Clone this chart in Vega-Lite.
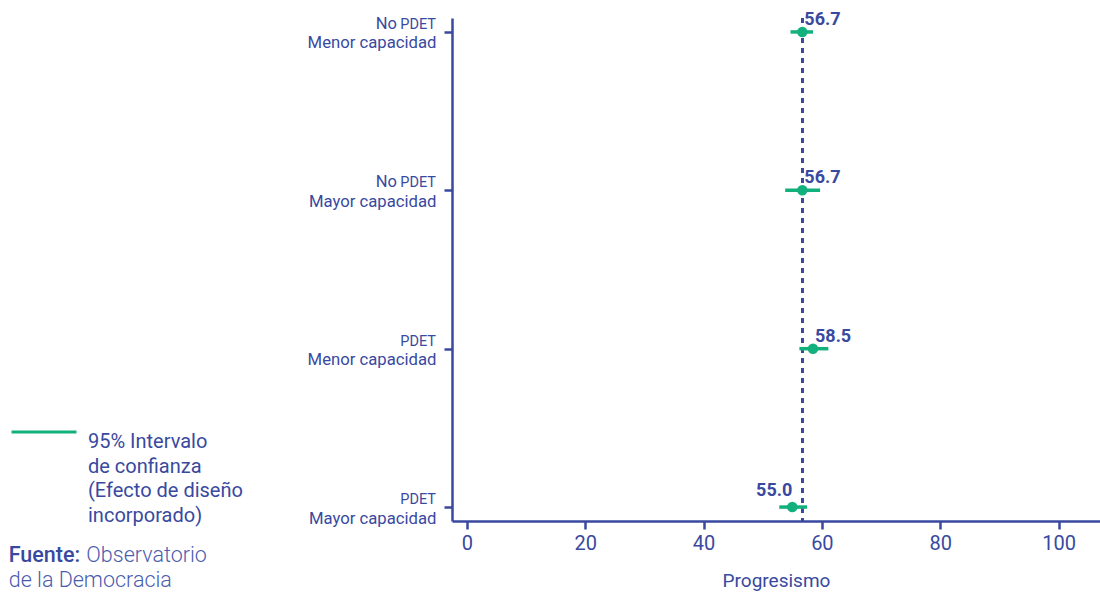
{
  "$schema": "https://vega.github.io/schema/vega-lite/v6.json",
  "width": 648,
  "height": 503,
  "autosize": {"type": "none"},
  "padding": {"left": 452, "top": 18, "right": 0, "bottom": 71},
  "background": "white",
  "config": {
    "font": "Roboto",
    "view": {"stroke": null},
    "style": {"guide-label": {"lineHeight": 24.5}},
    "axisX": {
      "grid": false,
      "domainColor": "#3949a0", "domainWidth": 2.5,
      "tickColor": "#3949a0", "tickWidth": 2.5, "tickSize": 8,
      "labelColor": "#3949a0", "labelFontSize": 20, "labelPadding": 4, "labelFont": "Roboto",
      "titleColor": "#3949a0", "titleFontSize": 19, "titleFontWeight": "normal", "titlePadding": 18, "titleFont": "Roboto"
    },
    "axisY": {
      "grid": false,
      "domainColor": "#3949a0", "domainWidth": 2.5,
      "tickColor": "#3949a0", "tickWidth": 2.5, "tickSize": 8,
      "labelColor": "#3949a0", "labelFontSize": 16.7, "labelPadding": 8, "labelFont": "Roboto",
      "labelBaseline": "alphabetic", "labelOffset": 16, "labelLimit": 300,
      "labelExpr": "split(datum.label, '|')[1]"
    }
  },
  "datasets": {
    "d": [
      {"grupo": "No PDET|Menor capacidad", "prefijo": "No", "valor": 56.7, "li": 54.7, "ls": 58.5},
      {"grupo": "No PDET|Mayor capacidad", "prefijo": "No", "valor": 56.7, "li": 53.8, "ls": 59.7},
      {"grupo": "PDET|Menor capacidad", "prefijo": "", "valor": 58.5, "li": 56.2, "ls": 61.1},
      {"grupo": "PDET|Mayor capacidad", "prefijo": "", "valor": 55.0, "li": 52.8, "ls": 57.5}
    ],
    "fuente": [
      {"t1": "Fuente:", "t2": "Observatorio", "t3": "de la Democracia"}
    ]
  },
  "layer": [
    {
      "data": {"name": "d"},
      "mark": {"type": "rule", "strokeWidth": 2.5, "strokeDash": [5, 5], "color": "#3949a0"},
      "encoding": {
        "x": {"datum": 56.7, "type": "quantitative", "scale": {"domain": [-2.5, 107], "nice": false, "zero": false}, "title": "Progresismo", "axis": {"values": [0, 20, 40, 60, 80, 100]}}
      }
    },
    {
      "data": {"name": "d"},
      "mark": {"type": "rule", "strokeWidth": 3.5},
      "encoding": {
        "y": {"field": "grupo", "type": "nominal", "title": null,
              "scale": {"type": "point", "padding": 0.088, "domain": ["No PDET|Menor capacidad", "No PDET|Mayor capacidad", "PDET|Menor capacidad", "PDET|Mayor capacidad"]}},
        "x": {"field": "li", "type": "quantitative", "scale": {"domain": [-2.5, 107], "nice": false, "zero": false}, "title": "Progresismo", "axis": {"values": [0, 20, 40, 60, 80, 100]}},
        "x2": {"field": "ls"},
        "color": {
          "datum": "95% Intervalo de confianza (Efecto de diseño incorporado)",
          "type": "nominal",
          "scale": {"range": ["#12b07c"]},
          "legend": {
            "orient": "none", "legendX": -442, "legendY": 380, "title": null, "padding": 0,
            "symbolType": "stroke", "symbolSize": 4225, "symbolStrokeWidth": 3,
            "labelFontSize": 20, "labelColor": "#3949a0", "labelOffset": 10, "labelLimit": 400,
            "labelBaseline": "top", "labelFont": "Roboto",
            "labelExpr": "['95% Intervalo', 'de confianza', '(Efecto de diseño', 'incorporado)']"
          }
        }
      }
    },
    {
      "data": {"name": "d"},
      "mark": {"type": "circle", "size": 110, "opacity": 1, "color": "#12b07c"},
      "encoding": {
        "y": {"field": "grupo", "type": "nominal", "title": null,
              "scale": {"type": "point", "padding": 0.088, "domain": ["No PDET|Menor capacidad", "No PDET|Mayor capacidad", "PDET|Menor capacidad", "PDET|Mayor capacidad"]}},
        "x": {"field": "valor", "type": "quantitative", "scale": {"domain": [-2.5, 107], "nice": false, "zero": false}, "title": "Progresismo"}
      }
    },
    {
      "data": {"name": "d"},
      "transform": [{"filter": "datum.valor >= 56"}],
      "mark": {"type": "text", "align": "left", "baseline": "alphabetic", "dx": 2, "dy": -7, "fontSize": 18, "fontWeight": "bold", "color": "#3949a0", "font": "Roboto"},
      "encoding": {
        "y": {"field": "grupo", "type": "nominal", "title": null,
              "scale": {"type": "point", "padding": 0.088, "domain": ["No PDET|Menor capacidad", "No PDET|Mayor capacidad", "PDET|Menor capacidad", "PDET|Mayor capacidad"]}},
        "x": {"field": "valor", "type": "quantitative", "scale": {"domain": [-2.5, 107], "nice": false, "zero": false}, "title": "Progresismo"},
        "text": {"field": "valor", "type": "quantitative", "format": ".1f"}
      }
    },
    {
      "data": {"name": "d"},
      "transform": [{"filter": "datum.valor < 56"}],
      "mark": {"type": "text", "align": "right", "baseline": "alphabetic", "dx": 0, "dy": -11, "fontSize": 18, "fontWeight": "bold", "color": "#3949a0", "font": "Roboto"},
      "encoding": {
        "y": {"field": "grupo", "type": "nominal", "title": null,
              "scale": {"type": "point", "padding": 0.088, "domain": ["No PDET|Menor capacidad", "No PDET|Mayor capacidad", "PDET|Menor capacidad", "PDET|Mayor capacidad"]}},
        "x": {"field": "valor", "type": "quantitative", "scale": {"domain": [-2.5, 107], "nice": false, "zero": false}, "title": "Progresismo"},
        "text": {"field": "valor", "type": "quantitative", "format": ".1f"}
      }
    },
    {
      "data": {"name": "d"},
      "mark": {"type": "text", "align": "right", "baseline": "alphabetic", "dx": -16, "dy": -3, "fontSize": 14.5, "color": "#3949a0", "font": "Roboto"},
      "encoding": {
        "y": {"field": "grupo", "type": "nominal", "title": null,
              "scale": {"type": "point", "padding": 0.088, "domain": ["No PDET|Menor capacidad", "No PDET|Mayor capacidad", "PDET|Menor capacidad", "PDET|Mayor capacidad"]}},
        "x": {"datum": -2.5, "type": "quantitative", "scale": {"domain": [-2.5, 107], "nice": false, "zero": false}, "title": "Progresismo"},
        "text": {"value": "PDET"}
      }
    },
    {
      "data": {"name": "d"},
      "mark": {"type": "text", "align": "right", "baseline": "alphabetic", "dx": -55, "dy": -3, "fontSize": 16.5, "color": "#3949a0", "font": "Roboto"},
      "encoding": {
        "y": {"field": "grupo", "type": "nominal", "title": null,
              "scale": {"type": "point", "padding": 0.088, "domain": ["No PDET|Menor capacidad", "No PDET|Mayor capacidad", "PDET|Menor capacidad", "PDET|Mayor capacidad"]}},
        "x": {"datum": -2.5, "type": "quantitative", "scale": {"domain": [-2.5, 107], "nice": false, "zero": false}, "title": "Progresismo"},
        "text": {"field": "prefijo", "type": "nominal"}
      }
    },
    {
      "data": {"name": "fuente"},
      "mark": {"type": "text", "align": "left", "baseline": "alphabetic", "dy": 55, "fontSize": 21.5, "fontWeight": 500, "color": "#3949a0", "font": "Roboto"},
      "encoding": {
        "y": {"datum": "PDET|Mayor capacidad", "type": "nominal", "title": null,
              "scale": {"type": "point", "padding": 0.088, "domain": ["No PDET|Menor capacidad", "No PDET|Mayor capacidad", "PDET|Menor capacidad", "PDET|Mayor capacidad"]}},
        "x": {"datum": -77.4, "type": "quantitative", "scale": {"domain": [-2.5, 107], "nice": false, "zero": false}, "title": "Progresismo"},
        "text": {"field": "t1", "type": "nominal"}
      }
    },
    {
      "data": {"name": "fuente"},
      "mark": {"type": "text", "align": "left", "baseline": "alphabetic", "dy": 55, "fontSize": 21.5, "fontWeight": 300, "color": "#4a5cae", "font": "Roboto"},
      "encoding": {
        "y": {"datum": "PDET|Mayor capacidad", "type": "nominal", "title": null,
              "scale": {"type": "point", "padding": 0.088, "domain": ["No PDET|Menor capacidad", "No PDET|Mayor capacidad", "PDET|Menor capacidad", "PDET|Mayor capacidad"]}},
        "x": {"datum": -64.3, "type": "quantitative", "scale": {"domain": [-2.5, 107], "nice": false, "zero": false}, "title": "Progresismo"},
        "text": {"field": "t2", "type": "nominal"}
      }
    },
    {
      "data": {"name": "fuente"},
      "mark": {"type": "text", "align": "left", "baseline": "alphabetic", "dy": 80, "fontSize": 21.5, "fontWeight": 300, "color": "#4a5cae", "font": "Roboto"},
      "encoding": {
        "y": {"datum": "PDET|Mayor capacidad", "type": "nominal", "title": null,
              "scale": {"type": "point", "padding": 0.088, "domain": ["No PDET|Menor capacidad", "No PDET|Mayor capacidad", "PDET|Menor capacidad", "PDET|Mayor capacidad"]}},
        "x": {"datum": -77.4, "type": "quantitative", "scale": {"domain": [-2.5, 107], "nice": false, "zero": false}, "title": "Progresismo"},
        "text": {"field": "t3", "type": "nominal"}
      }
    }
  ]
}
